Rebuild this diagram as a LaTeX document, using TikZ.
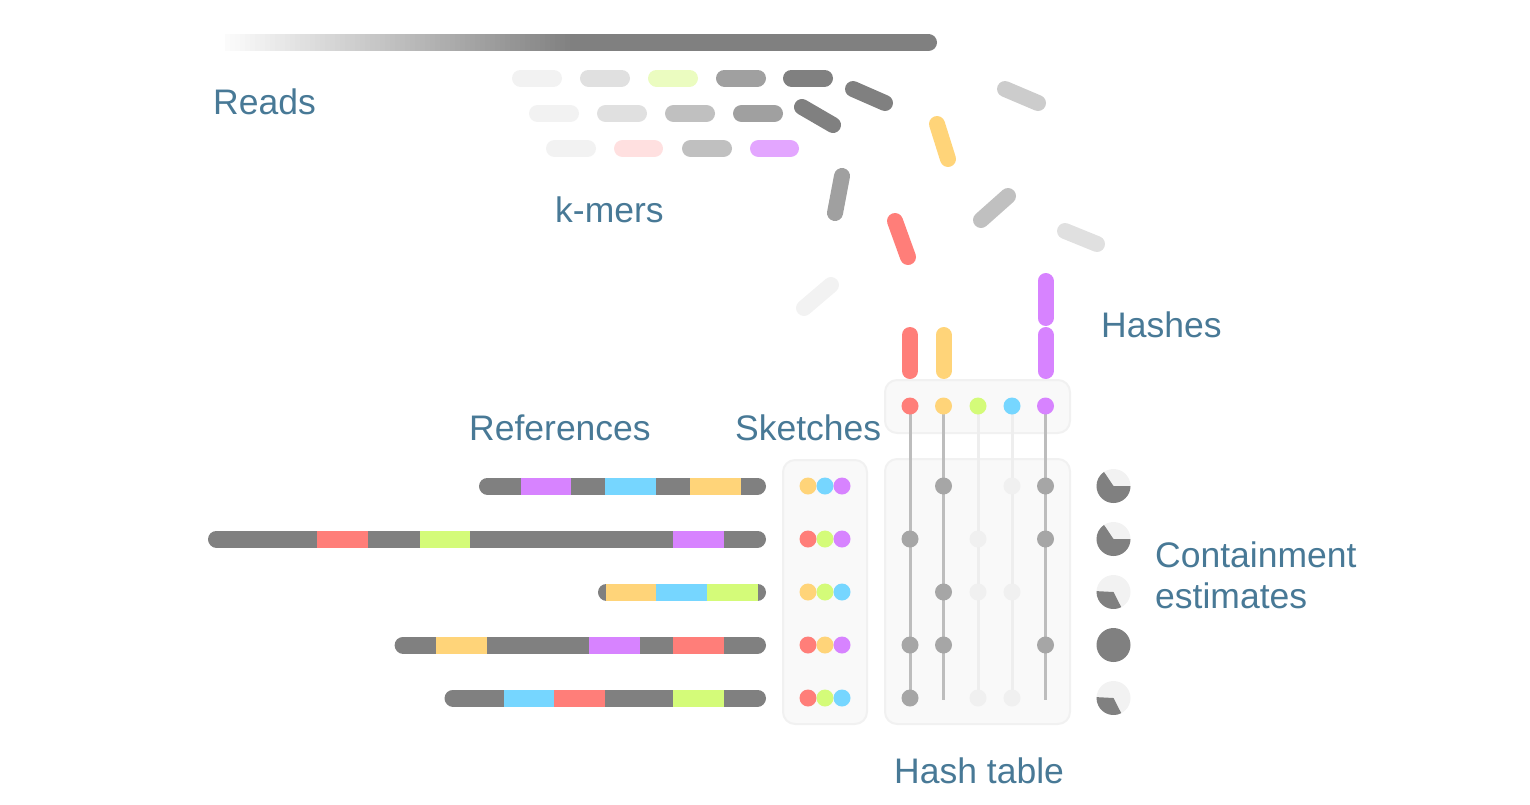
\documentclass[tikz,border=0pt]{standalone}
\usepackage{fontspec}
\setmainfont{Liberation Sans}
\definecolor{txt}{RGB}{72,121,150}
\definecolor{ga}{HTML}{F2F2F2}
\definecolor{gb}{HTML}{E0E0E0}
\definecolor{gc}{HTML}{C0C0C0}
\definecolor{gcc}{HTML}{CCCCCC}
\definecolor{gd}{HTML}{A0A0A0}
\definecolor{ge}{HTML}{808080}
\definecolor{cred}{HTML}{FF7E79}
\definecolor{cyel}{HTML}{FFD479}
\definecolor{cgrn}{HTML}{D4FB79}
\definecolor{cblu}{HTML}{76D6FF}
\definecolor{cpur}{HTML}{D783FF}
\definecolor{lgrn}{HTML}{EBFCC0}
\definecolor{lred}{HTML}{FFE0E0}
\definecolor{lpur}{HTML}{E3A6FF}
\definecolor{panelfill}{HTML}{F9F9F9}
\definecolor{paneledge}{HTML}{F1F1F1}
\definecolor{tline}{HTML}{BDBDBD}
\definecolor{tlight}{HTML}{EEEEEE}
\definecolor{tdot}{HTML}{A6A6A6}
\definecolor{tdotl}{HTML}{F0F0F0}
\newcommand{\refbar}[3]{% y, left, segments
  \draw[pill,ge] (#2+8.5,#1) -- (757.5,#1);
  \foreach \a/\b/\c in {#3} \fill[\c] (\a,#1-8.5) rectangle (\b,#1+8.5);
}
\begin{document}
\begin{tikzpicture}[x=1pt,y=-1pt,
  pill/.style={line width=17pt, line cap=round},
  tpill/.style={line width=16pt, line cap=round},
  lbl/.style={font=\fontsize{35.5}{40}\selectfont, text=txt, inner sep=0pt, anchor=base west},
  dot/.style={circle, inner sep=0pt, minimum size=17pt, fill=#1},
  panel/.style={rounded corners=12pt, fill=panelfill, draw=paneledge, line width=2pt},
  colline/.style={line width=3pt, draw=#1}]
\useasboundingbox (0,0) rectangle (1530,804);

% ---------- read bar ----------
\draw[pill, ge] (570,42.5) -- (928.5,42.5);
\foreach \i [evaluate=\i as \p using 3+\i*97/69] in {0,...,69}
  \fill[ge!\p!white] (225+\i*5,34) rectangle (230.8+\i*5,51);

% ---------- k-mers ----------
\foreach \a/\b/\c in {512/562/ga,580/630/gb,648/698/lgrn,716/766/gd,783/833/ge}
  \draw[pill,\c] (\a+8.5,78) -- (\b-8.5,78);
\foreach \a/\b/\c in {529/579/ga,597/647/gb,665/715/gc,733/783/gd}
  \draw[pill,\c] (\a+8.5,113.5) -- (\b-8.5,113.5);
\foreach \a/\b/\c in {546/596/ga,614/663/lred,682/732/gc,750/799/lpur}
  \draw[pill,\c] (\a+8.5,148.5) -- (\b-8.5,148.5);

% ---------- scattered k-mers / hashes ----------
\draw[tpill,ge]   (853,89) -- (885,103);
\draw[tpill,ge]   (802,107) -- (833,125);
\draw[tpill,gd]   (842,176) -- (835,213);
\draw[tpill,cyel] (937,124) -- (948,159);
\draw[tpill,cred] (895,221) -- (908,257);
\draw[tpill,gcc]  (1005,89) -- (1038,103);
\draw[tpill,gc]   (981,220) -- (1008,196);
\draw[tpill,gb]   (1065,231) -- (1097,244);
\draw[tpill,ga]   (804,308) -- (831,285);

% ---------- hashes ----------
\draw[tpill,cred] (910,335) -- (910,371);
\draw[tpill,cyel] (943.5,335) -- (943.5,371);
\draw[tpill,cpur] (1045.5,281) -- (1045.5,318);
\draw[tpill,cpur] (1045.5,335) -- (1045.5,371);

% ---------- panels ----------
\draw[panel] (885,380) rectangle (1070,433);
\draw[panel] (885,459) rectangle (1070,724);
\draw[panel] (783,460) rectangle (867,724);

% ---------- hash table ----------
\foreach \n/\x in {1/910,2/943.5,3/978,4/1012,5/1045.5}
  \coordinate (h\n) at (\x,406);
\coordinate (b1) at (910,698);
\coordinate (b2) at (943.5,700);
\coordinate (b3) at (978,698);
\coordinate (b4) at (1012,698);
\coordinate (b5) at (1045.5,700);
\draw[colline=tline]  (h1) -- (b1);
\draw[colline=tline]  (h2) -- (b2);
\draw[colline=tlight] (h3) -- (b3);
\draw[colline=tlight] (h4) -- (b4);
\draw[colline=tline]  (h5) -- (b5);
\node[dot=cred] (d1) at (h1) {};
\node[dot=cyel] (d2) at (h2) {};
\node[dot=cgrn] (d3) at (h3) {};
\node[dot=cblu] (d4) at (h4) {};
\node[dot=cpur] (d5) at (h5) {};

% table cells
\foreach \r/\y/\cells in {1/486/{2/tdot,4/tdotl,5/tdot},
                          2/539/{1/tdot,3/tdotl,5/tdot},
                          3/592/{2/tdot,3/tdotl,4/tdotl},
                          4/645/{1/tdot,2/tdot,5/tdot},
                          5/698/{1/tdot,3/tdotl,4/tdotl}}{
  \foreach \c/\col in \cells {
    \path (h\c) ++(0,\y-406) node[dot=\col] (t\r\c) {};
  }
}

% sketches
\foreach \r/\y/\p/\q/\s in {1/486/cyel/cblu/cpur,2/539/cred/cgrn/cpur,3/592/cyel/cgrn/cblu,4/645/cred/cyel/cpur,5/698/cred/cgrn/cblu}{
  \node[dot=\p] (s\r a) at (808,\y) {};
  \node[dot=\q] (s\r b) at (825,\y) {};
  \node[dot=\s] (s\r c) at (842,\y) {};
}

% ---------- references ----------
\refbar{486}{479}{520.5/571/cpur,604.5/655.5/cblu,690/740.5/cyel}
\refbar{539}{208}{317/367.5/cred,419.7/470/cgrn,673/723.5/cpur}
\refbar{592}{598}{605.6/656/cyel,656/707/cblu,707/758/cgrn}
\refbar{645}{394.6}{436.4/487/cyel,588.6/639.6/cpur,673/724/cred}
\refbar{698}{444.5}{503.6/554.3/cblu,554.3/605/cred,673/723.5/cgrn}

% ---------- containment pies ----------
\foreach \y/\s/\e in {486/0/236,539/0/236,592/63/183,698/63/183}{
  \fill[ga] (1113.5,\y) circle[radius=17];
  \fill[ge] (1113.5,\y) -- ++(\s:17) arc[start angle=\s, end angle=\e, radius=17] -- cycle;
}
\fill[ge] (1113.5,645) circle[radius=17];

% ---------- labels ----------
\node[lbl] (lreads) at (213,114) {Reads};
\node[lbl] (lkmers) at (555,222) {k-mers};
\node[lbl] (lhash) at (1101,337) {Hashes};
\node[lbl] (lrefs) at (469,440) {References};
\node[lbl] (lsk) at (735,440) {Sketches};
\node[lbl] (lcont) at (1155,567) {Containment};
\node[lbl] (lest) at (1155,608) {estimates};
\node[lbl] (ltab) at (894,783) {Hash table};
\end{tikzpicture}
\end{document}
